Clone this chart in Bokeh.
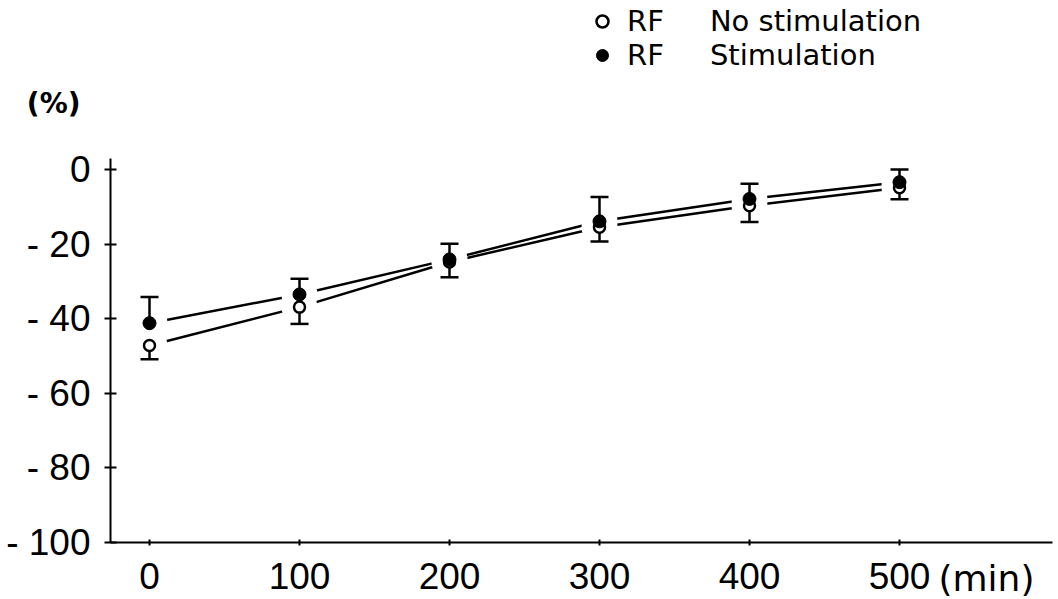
from bokeh.plotting import figure
from bokeh.models import Range1d, Legend, LegendItem, FixedTicker, LinearAxis
from bokeh.embed import file_html
from bokeh.resources import INLINE

# ---- data ----
time_min = [0, 100, 200, 300, 400, 500]
no_stim = [-47.2, -36.9, -24.8, -15.5, -9.7, -4.9]
no_stim_err = [3.7, 4.5, 4.1, 3.8, 4.4, 3.1]
stim = [-41.2, -33.5, -24.1, -13.9, -7.9, -3.4]
stim_err = [7.0, 4.2, 4.2, 6.5, 4.1, 3.4]

x_ticks = [0, 100, 200, 300, 400, 500]
x_tick_labels = ["0", "100", "200", "300", "400", "500"]
y_ticks = [-100, -80, -60, -40, -20, 0]
y_tick_labels = ["- 100", "- 80", "- 60", "- 40", "- 20", "0"]
x_unit = "(min)"
x_unit_pos = 558           # where the "(min)" note sits along the time axis
y_unit = "(%)"
y_unit_pos = 17.7          # height (in % units) at which the "(%)" note sits
series_names = ["RF\u00a0\u00a0\u00a0\u00a0\u00a0No stimulation",
                "RF\u00a0\u00a0\u00a0\u00a0\u00a0Stimulation"]

FONT = "Liberation Sans"

p = figure(frame_width=942, frame_height=542,
           x_range=Range1d(-26, 602), y_range=Range1d(-100, 45.3),
           output_backend="svg", toolbar_location=None,
           min_border_left=110, min_border_right=6, min_border_top=0, min_border_bottom=57,
           background_fill_color="white", border_fill_color="white",
           outline_line_color=None)
p.grid.visible = False

# x axis
xa = p.xaxis[0]
xa.ticker = FixedTicker(ticks=x_ticks)
xa.major_label_overrides = {t: s for t, s in zip(x_ticks, x_tick_labels)}
xa.axis_line_width = 2
xa.axis_line_color = "black"
xa.major_tick_line_width = 2
xa.major_tick_in = 3
xa.major_tick_out = 3
xa.minor_tick_line_color = None
xa.major_label_standoff = 17
xa.major_label_text_font = FONT
xa.major_label_text_font_size = "37px"
xa.major_label_text_color = "black"

# unit note "(min)" as the only label of an outer, line-less bottom axis
xu = LinearAxis(ticker=FixedTicker(ticks=[x_unit_pos]),
                major_label_overrides={x_unit_pos: x_unit},
                axis_line_color=None, major_tick_line_color=None, minor_tick_line_color=None,
                major_tick_in=0, major_tick_out=0, major_label_standoff=-34,
                major_label_text_font="DejaVu Sans", major_label_text_font_size="36px",
                major_label_text_color="black")
p.add_layout(xu, "below")

# y axis
ya = p.yaxis[0]
ya.ticker = FixedTicker(ticks=y_ticks)
ya.major_label_overrides = {t: s for t, s in zip(y_ticks, y_tick_labels)}
ya.bounds = (-100, 3)
ya.axis_line_width = 2
ya.axis_line_color = "black"
ya.major_tick_line_width = 2
ya.major_tick_in = 6
ya.major_tick_out = 6
ya.minor_tick_line_color = None
ya.major_label_standoff = 14
ya.major_label_text_font = FONT
ya.major_label_text_font_size = "37px"
ya.major_label_text_color = "black"

# unit note "(%)" as the only label of an outer, line-less left axis
ua = LinearAxis(ticker=FixedTicker(ticks=[y_unit_pos]),
                major_label_overrides={y_unit_pos: y_unit},
                axis_line_color=None, major_tick_line_color=None, minor_tick_line_color=None,
                major_tick_in=0, major_tick_out=0, major_label_standoff=-77,
                major_label_text_font="DejaVu Sans", major_label_text_font_size="28px",
                major_label_text_font_style="bold", major_label_text_color="black")
p.add_layout(ua, "left")

# connecting lines
p.line(time_min, no_stim, line_width=2.5, line_color="black")
p.line(time_min, stim, line_width=2.5, line_color="black")

# white halos so that the lines stop short of the points
p.scatter(time_min, no_stim, size=36, fill_color="white", line_color=None)
p.scatter(time_min, stim, size=36, fill_color="white", line_color=None)

# error bars: stimulation upward, no stimulation downward
stim_hi = [v + e for v, e in zip(stim, stim_err)]
no_lo = [v - e for v, e in zip(no_stim, no_stim_err)]
p.segment(x0=time_min, y0=stim, x1=time_min, y1=stim_hi, line_width=2.5, line_color="black")
p.segment(x0=time_min, y0=no_stim, x1=time_min, y1=no_lo, line_width=2.5, line_color="black")
p.scatter(time_min, stim_hi, marker="dash", size=18, line_width=2.5, line_color="black")
p.scatter(time_min, no_lo, marker="dash", size=18, line_width=2.5, line_color="black")

# markers
r_open = p.scatter(time_min, no_stim, marker="circle", size=11, fill_color="white",
                   line_color="black", line_width=2.5)
r_fill = p.scatter(time_min, stim, marker="circle", size=13, fill_color="black",
                   line_color="black", line_width=1)

legend = Legend(items=[LegendItem(label=series_names[0], renderers=[r_open]),
                       LegendItem(label=series_names[1], renderers=[r_fill])],
                location=(477, 470), padding=0, margin=0,
                border_line_color=None, background_fill_alpha=0,
                glyph_width=30, glyph_height=30, label_height=30, spacing=0,
                label_standoff=10, label_text_font="DejaVu Sans",
                label_text_font_size="29px", label_text_color="black")
p.add_layout(legend)

open("out.html", "w").write(file_html(p, INLINE))
